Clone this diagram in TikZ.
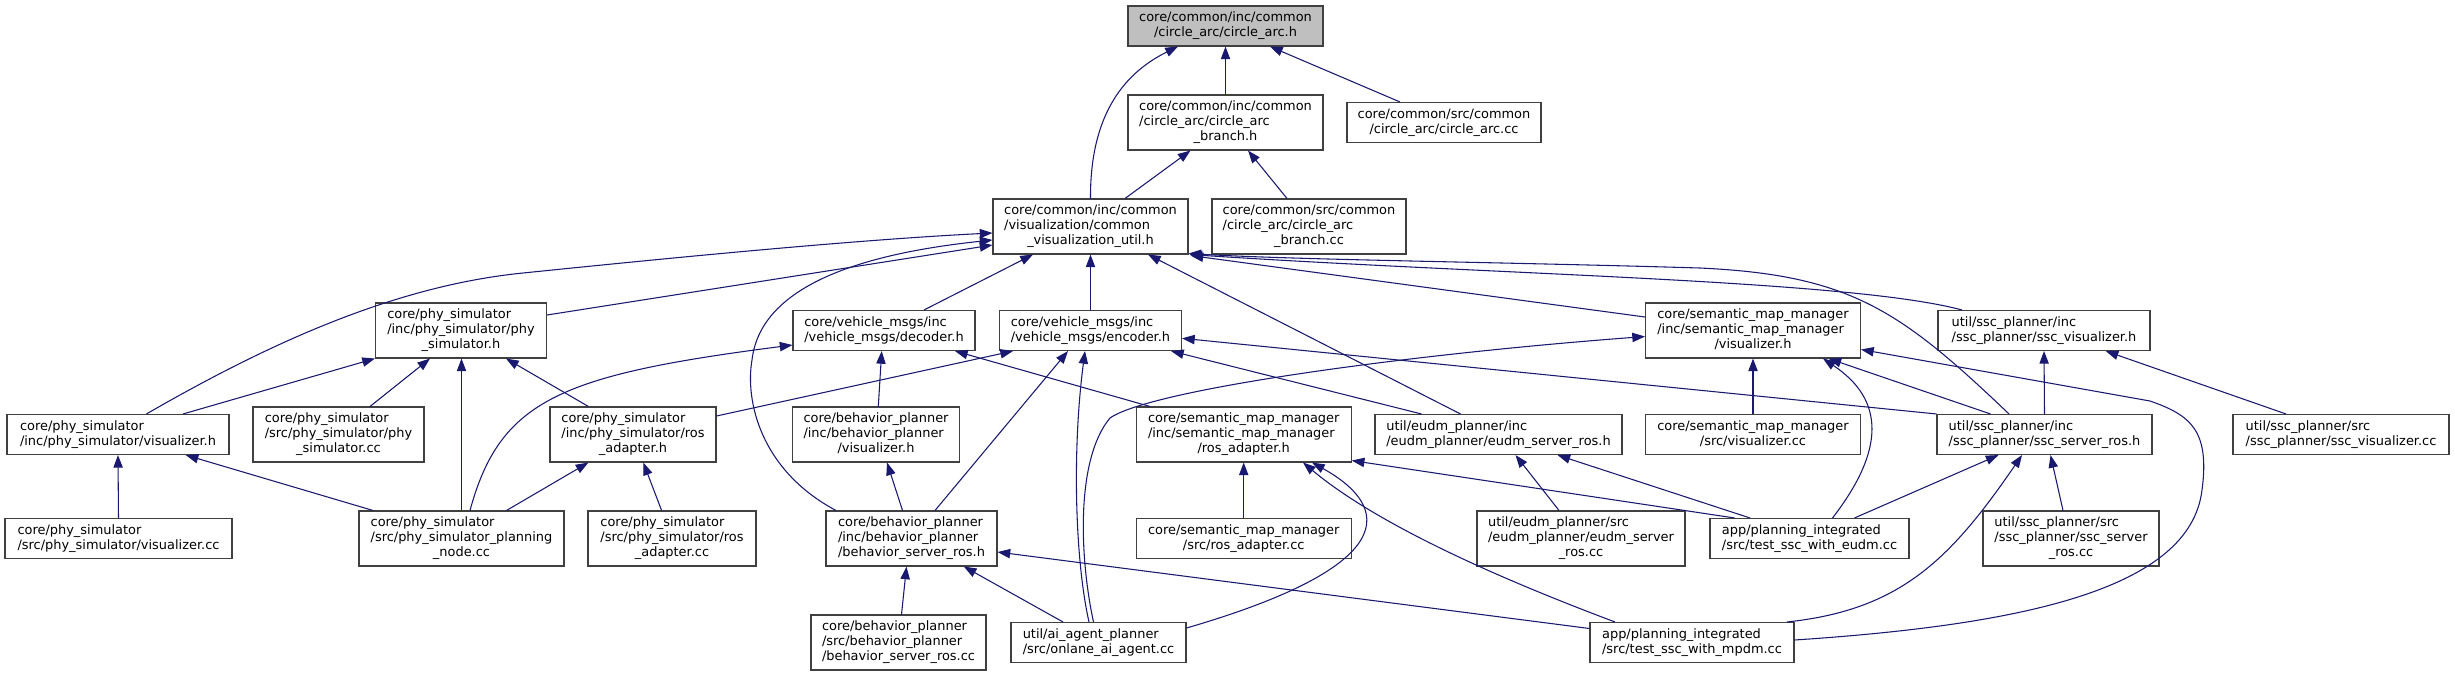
\documentclass[tikz,border=0pt]{standalone}
\usepackage{fontspec}
\setmainfont{DejaVu Sans}
\usetikzlibrary{calc,arrows.meta}
\definecolor{mblue}{HTML}{191970}
\definecolor{rootgray}{HTML}{BFBFBF}
\definecolor{boxline}{HTML}{404040}
\newcommand\labtwo[2]{\begin{tabular}{@{}l@{}}#1\\\multicolumn{1}{@{}c@{}}{#2}\end{tabular}}
\newcommand\labthree[3]{\begin{tabular}{@{}l@{}}#1\\#2\\\multicolumn{1}{@{}c@{}}{#3}\end{tabular}}
\tikzset{
  nbox/.style 2 args={draw=boxline, line width=0.8pt, fill=white, inner sep=0pt,
    minimum width={#1*0.75pt}, minimum height={#2*0.75pt},
    font=\fontsize{9.7pt}{11.25pt}\selectfont},
  two/.style={nbox={#1}{40}},
  three/.style={nbox={#1}{55}},
  rootbox/.style={fill=rootgray},
  edge/.style={draw=mblue, line width=0.8pt, -{Triangle[length=9.5pt,width=7pt]}},
}
\begin{document}
\begin{tikzpicture}[x=0.75pt,y=-0.75pt]
\path[fill=white, use as bounding box] (0,0) rectangle (2455,676);

% rank 0-2
\node[two=195, rootbox] (root) at (1225.5,26) {\labtwo{core/common/inc/common}{/circle\_arc/circle\_arc.h}};
\node[three=195] (brh) at (1225.5,122.5) {\labthree{core/common/inc/common}{/circle\_arc/circle\_arc}{\_branch.h}};
\node[two=194] (cacc) at (1444,122.5) {\labtwo{core/common/src/common}{/circle\_arc/circle\_arc.cc}};
\node[three=195] (cvu) at (1090.5,226.5) {\labthree{core/common/inc/common}{/visualization/common}{\_visualization\_util.h}};
\node[three=194] (brcc) at (1309,226.5) {\labthree{core/common/src/common}{/circle\_arc/circle\_arc}{\_branch.cc}};

% rank 3
\node[three=171] (physim) at (461,330.5) {\labthree{core/phy\_simulator}{/inc/phy\_simulator/phy}{\_simulator.h}};
\node[two=182] (dec) at (884,330.5) {\labtwo{core/vehicle\_msgs/inc}{/vehicle\_msgs/decoder.h}};
\node[two=182] (enc) at (1090.5,330.5) {\labtwo{core/vehicle\_msgs/inc}{/vehicle\_msgs/encoder.h}};
\node[three=215] (smmvis) at (1753,330.5) {\labthree{core/semantic\_map\_manager}{/inc/semantic\_map\_manager}{/visualizer.h}};
\node[two=212] (sscvis) at (2044,330.5) {\labtwo{util/ssc\_planner/inc}{/ssc\_planner/ssc\_visualizer.h}};

% rank 4
\node[two=222] (phyvis) at (118,434.5) {\labtwo{core/phy\_simulator}{/inc/phy\_simulator/visualizer.h}};
\node[three=171] (physimcc) at (338.5,434.5) {\labthree{core/phy\_simulator}{/src/phy\_simulator/phy}{\_simulator.cc}};
\node[three=166] (phyros) at (633,434.5) {\labthree{core/phy\_simulator}{/inc/phy\_simulator/ros}{\_adapter.h}};
\node[three=167] (bpvis) at (876,434.5) {\labthree{core/behavior\_planner}{/inc/behavior\_planner}{/visualizer.h}};
\node[three=215] (smmros) at (1243.7,434.5) {\labthree{core/semantic\_map\_manager}{/inc/semantic\_map\_manager}{/ros\_adapter.h}};
\node[two=247] (eudm) at (1498.5,434.5) {\labtwo{util/eudm\_planner/inc}{/eudm\_planner/eudm\_server\_ros.h}};
\node[two=215] (smmviscc) at (1753,434.5) {\labtwo{core/semantic\_map\_manager}{/src/visualizer.cc}};
\node[two=215] (sscros) at (2044.5,434.5) {\labtwo{util/ssc\_planner/inc}{/ssc\_planner/ssc\_server\_ros.h}};
\node[two=216] (sscviscc) at (2341,434.5) {\labtwo{util/ssc\_planner/src}{/ssc\_planner/ssc\_visualizer.cc}};

% rank 5
\node[two=227] (phyviscc) at (118.5,538.5) {\labtwo{core/phy\_simulator}{/src/phy\_simulator/visualizer.cc}};
\node[three=205] (pnode) at (461.5,538.5) {\labthree{core/phy\_simulator}{/src/phy\_simulator\_planning}{\_node.cc}};
\node[three=168] (phyroscc) at (672,538.5) {\labthree{core/phy\_simulator}{/src/phy\_simulator/ros}{\_adapter.cc}};
\node[three=171] (bsros) at (911.5,538.5) {\labthree{core/behavior\_planner}{/inc/behavior\_planner}{/behavior\_server\_ros.h}};
\node[two=215] (smmroscc) at (1243.7,538.5) {\labtwo{core/semantic\_map\_manager}{/src/ros\_adapter.cc}};
\node[three=208] (eudmcc) at (1581,538.5) {\labthree{util/eudm\_planner/src}{/eudm\_planner/eudm\_server}{\_ros.cc}};
\node[two=199] (eudmtest) at (1809.5,538.5) {\labtwo{app/planning\_integrated}{/src/test\_ssc\_with\_eudm.cc}};
\node[three=176] (sscroscc) at (2071,538.5) {\labthree{util/ssc\_planner/src}{/ssc\_planner/ssc\_server}{\_ros.cc}};

% rank 6
\node[three=175] (bsroscc) at (898.5,642.5) {\labthree{core/behavior\_planner}{/src/behavior\_planner}{/behavior\_server\_ros.cc}};
\node[two=175] (onlane) at (1098.5,642.5) {\labtwo{util/ai\_agent\_planner}{/src/onlane\_ai\_agent.cc}};
\node[two=204] (mpdm) at (1692,642.5) {\labtwo{app/planning\_integrated}{/src/test\_ssc\_with\_mpdm.cc}};

% edges to root / branch
\draw[edge] (brh.north) -- (root.south);
\draw[edge] ($(cacc.north)+(-44,0)$) -- ($(root.south)+(44.5,0)$);
\draw[edge] (cvu.north) .. controls (1090,120) and (1120,75) .. ($(root.south)+(-47.5,0)$);
\draw[edge] ($(cvu.north)+(34.5,0)$) -- ($(brh.south)+(-35,0)$);
\draw[edge] ($(brcc.north)+(-22,0)$) -- ($(brh.south)+(22.5,0)$);

% edges to common_visualization_util.h
\draw[edge] ($(dec.north)+(40,0)$) -- ($(cvu.south)+(-57.5,0)$);
\draw[edge] (enc.north) -- (cvu.south);
\draw[edge] ($(eudm.north)+(-38,0)$) -- ($(cvu.south)+(57.5,0)$);
\draw[edge] ($(smmvis.west)+(0,-13.5)$) -- ($(cvu.south east)+(2,1)$);
\draw[edge] ($(sscvis.north)+(-82,0)$) .. controls (1850,280) and (1500,275) .. ($(cvu.south east)+(1,0)$);
\draw[edge] ($(sscros.north)+(-35.5,0)$) .. controls (1900,310) and (1850,275) .. (1700,268) .. controls (1500,262) and (1300,260) .. ($(cvu.south east)+(0,-1)$);
\draw[edge] ($(physim.east)+(0,-15.5)$) -- ($(cvu.west)+(0,18.5)$);
\draw[edge] ($(phyvis.north)+(28.4,0)$) .. controls (266,345) and (393,286) .. (523,273) .. controls (650,260) and (850,240) .. ($(cvu.west)+(0,6.5)$);
\draw[edge] ($(bsros.north)+(-75.5,0)$) .. controls (760,470) and (745,400) .. (752,360) .. controls (760,290) and (850,255) .. ($(cvu.west)+(0,13.5)$);

% phy_simulator group
\draw[edge] ($(phyvis.north)+(65,0)$) -- (physim.south west);
\draw[edge] ($(physimcc.north)+(31.5,0)$) -- ($(physim.south)+(-31,0)$);
\draw[edge] (pnode.north) -- (pnode.north |- physim.south);
\draw[edge] ($(phyros.north)+(-44.6,0)$) -- ($(physim.south)+(45,0)$);
\draw[edge] (phyviscc.north) -- (phyvis.south);
\draw[edge] ($(pnode.north)+(-88.5,0)$) -- ($(phyvis.south)+(67.7,0)$);
\draw[edge] ($(pnode.north)+(45,0)$) -- ($(phyros.south)+(-44.6,0)$);
\draw[edge] ($(phyroscc.north)+(-10.4,0)$) -- ($(phyros.south)+(10.3,0)$);
\draw[edge] ($(pnode.north)+(8.5,0)$) .. controls (500,400) and (560,375) .. ($(dec.west)+(0,14.5)$);

% decoder / encoder
\draw[edge] ($(phyros.east)+(0,-18.5)$) -- ($(enc.south)+(-77.5,0)$);
\draw[edge] ($(bpvis.north)+(2.3,0)$) -- ($(dec.south)+(-2.3,0)$);
\draw[edge] ($(smmros.north)+(-93.7,0)$) -- ($(dec.south)+(71,0)$);
\draw[edge] ($(bsros.north)+(23.5,0)$) -- ($(enc.south)+(-22.5,0)$);
\draw[edge] ($(onlane.north)+(-9.5,0)$) .. controls (1075,560) and (1072,450) .. ($(enc.south)+(-5.5,0)$);
\draw[edge] ($(eudm.north)+(-77,0)$) -- ($(enc.south)+(80.5,0)$);
\draw[edge] (sscros.north west) -- ($(enc.east)+(0,7.8)$);
\draw[edge] ($(onlane.north)+(-5,0)$) .. controls (1080,560) and (1075,460) .. (1110,418) .. controls (1150,390) and (1400,355) .. ($(smmvis.west)+(0,6)$);

% behavior planner
\draw[edge] ($(bsros.north)+(-9,0)$) -- ($(bpvis.south)+(11,0)$);
\draw[edge] ($(bsroscc.north)+(3,0)$) -- ($(bsros.south)+(-5,0)$);
\draw[edge] ($(onlane.north)+(-35.5,0)$) -- ($(bsros.south)+(52.3,0)$);
\draw[edge] ($(mpdm.west)+(0,-14)$) -- ($(bsros.east)+(0,13.5)$);

% semantic map manager ros adapter
\draw[edge] (smmroscc.north) -- (smmros.south);
\draw[edge] ($(onlane.east)+(0,-14.5)$) .. controls (1420,560) and (1380,500) .. ($(smmros.south)+(68.3,0)$);
\draw[edge] ($(mpdm.north)+(-77,0)$) .. controls (1450,560) and (1360,510) .. ($(smmros.south)+(59.3,0)$);
\draw[edge] ($(eudmtest.north)+(-75,0)$) -- ($(smmros.south east)+(0,-2)$);

% eudm
\draw[edge] ($(eudmcc.north)+(-22,0)$) -- ($(eudm.south)+(17,0)$);
\draw[edge] ($(eudmtest.north)+(-59.5,0)$) -- ($(eudm.south)+(59,0)$);

% semantic map manager visualizer
\draw[edge] (smmviscc.north) -- (smmvis.south);
\draw[edge] ($(sscros.north)+(-54,0)$) -- ($(smmvis.south)+(75.5,0)$);
\draw[edge] ($(eudmtest.north)+(23,0)$) .. controls (1885,450) and (1885,400) .. ($(smmvis.south)+(70,0)$);
\draw[edge] ($(mpdm.east)+(0,-2.5)$) .. controls (2020,625) and (2190,590) .. (2202,490) .. controls (2210,430) and (2190,415) .. (2150,401) -- ($(smmvis.east)+(0,19)$);

% ssc planner
\draw[edge] (sscros.north) -- (sscvis.south);
\draw[edge] ($(sscviscc.north)+(-55,0)$) -- ($(sscvis.south)+(61.7,0)$);
\draw[edge] ($(eudmtest.north)+(45,0)$) -- ($(sscros.south)+(-46,0)$);
\draw[edge] ($(mpdm.north)+(95,0)$) .. controls (1900,610) and (1950,560) .. ($(sscros.south)+(-22.5,0)$);
\draw[edge] ($(sscroscc.north)+(-8,0)$) -- ($(sscros.south)+(6,0)$);
\end{tikzpicture}
\end{document}
